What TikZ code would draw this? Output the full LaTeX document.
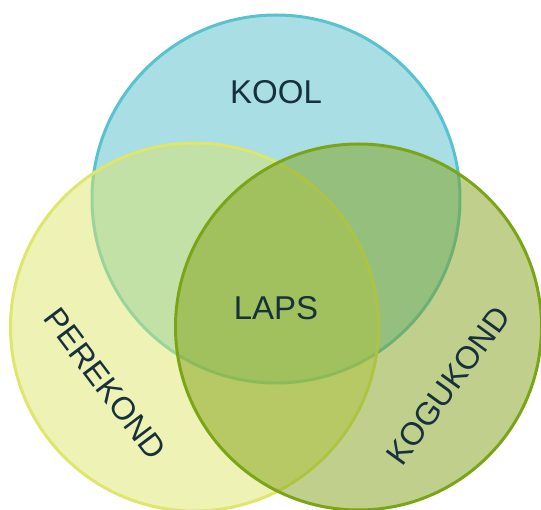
\documentclass[tikz,border=0pt]{standalone}
\usepackage{fontspec}
\setmainfont{Liberation Sans}
\definecolor{ctop}{RGB}{81,189,201}
\definecolor{cleft}{RGB}{221,229,105}
\definecolor{cright}{RGB}{129,161,25}
\definecolor{stop}{RGB}{88,195,206}
\definecolor{sleft}{RGB}{222,230,108}
\definecolor{sright}{RGB}{122,165,22}
\definecolor{txt}{RGB}{22,48,60}
\begin{document}
\begin{tikzpicture}[x=1pt,y=-1pt,
  setcircle/.style={line width=3pt, fill opacity=0.5},
  lab/.style={text=txt, font=\fontsize{33}{36}\selectfont, inner sep=0pt},
  rlab/.style={lab, font=\fontsize{32}{35}\selectfont}]
\useasboundingbox (0,0) rectangle (541,510);
\begin{scope}
\clip (0,0) rectangle (541,510);
\path[setcircle, draw=stop, fill=ctop] (276,199) circle (184);
\path[setcircle, draw=sleft, fill=cleft] (194.5,327) circle (184);
\path[setcircle, draw=sright, fill=cright] (358.5,327) circle (183);
\end{scope}
\node[lab] (kool) at (276,92) {KOOL};
\node[lab] (laps) at (276,308) {LAPS};
\node[rlab, rotate=-53] (perekond) at (105,384) {PEREKOND};
\node[rlab, rotate=54] (kogukond) at (448,386) {KOGUKOND};
\end{tikzpicture}
\end{document}
